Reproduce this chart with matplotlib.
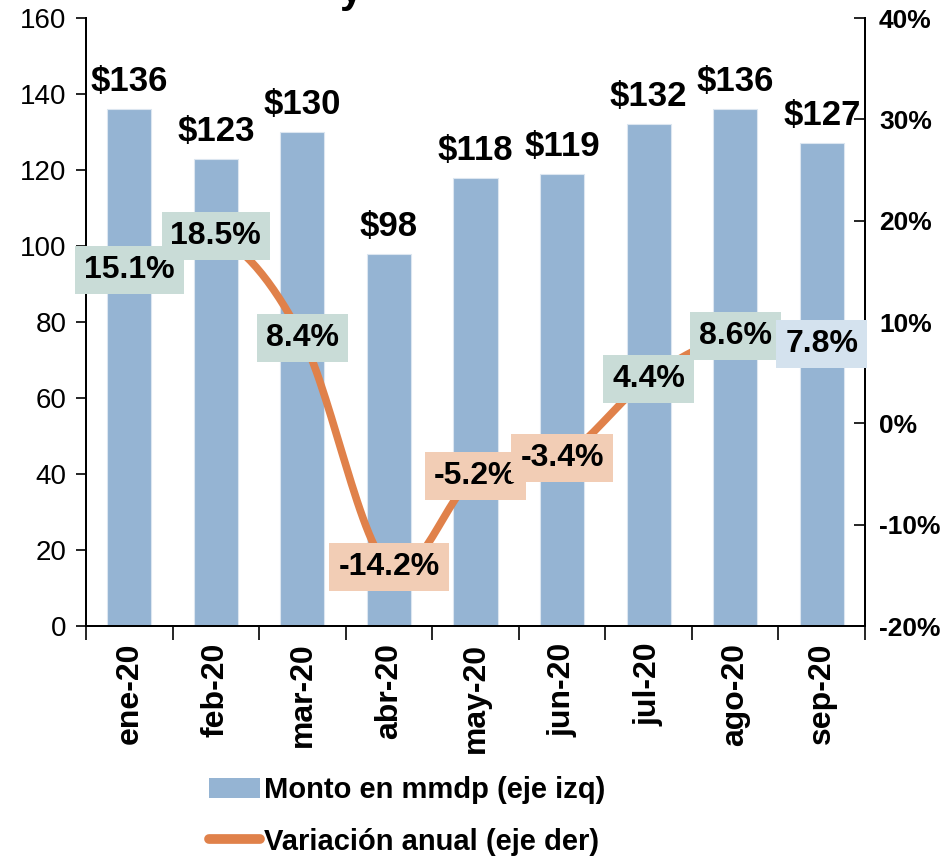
import numpy as np
import matplotlib
matplotlib.use("Agg")
import matplotlib.pyplot as plt
from matplotlib.lines import Line2D
from matplotlib.patches import Patch

plt.rcParams['font.family'] = ['Liberation Sans', 'DejaVu Sans']

months = ["ene-20", "feb-20", "mar-20", "abr-20", "may-20", "jun-20", "jul-20", "ago-20", "sep-20"]
monto = [136, 123, 130, 98, 118, 119, 132, 136, 127]
monto_labels = ["$136", "$123", "$130", "$98", "$118", "$119", "$132", "$136", "$127"]
variacion = [15.1, 18.5, 8.4, -14.2, -5.2, -3.4, 4.4, 8.6, 7.8]
var_labels = ["15.1%", "18.5%", "8.4%", "-14.2%", "-5.2%", "-3.4%", "4.4%", "8.6%", "7.8%"]
left_ticks = [0, 20, 40, 60, 80, 100, 120, 140, 160]
right_ticks = [-20, -10, 0, 10, 20, 30, 40]
right_tick_labels = ["-20%", "-10%", "0%", "10%", "20%", "30%", "40%"]
legend_labels = ["Monto en mmdp (eje izq)", "Variación anual (eje der)"]

BAR = "#95B4D3"
LINE = "#E0814A"
GREEN = "#C9DCD7"
PEACH = "#F2CDB5"
LBLUE = "#D4E2EE"

fig = plt.figure(figsize=(9.47, 8.58), dpi=100)
ax = fig.add_axes([86/947, 1-626/858, (865-86)/947, (626-18)/858])
x = np.arange(len(months))

ax.bar(x, monto, width=0.51, color=BAR, edgecolor="#DCE6F0", linewidth=0.8, zorder=2)
ax.set_xlim(-0.5, len(months)-0.5)
ax.set_ylim(0, 160)
ax.set_yticks(left_ticks)
ax.set_yticklabels([str(t) for t in left_ticks], fontsize=20)
ax.tick_params(axis='y', direction='out', length=7, width=1.2, pad=7)
ax.set_xticks(np.arange(len(months)+1)-0.5)
ax.set_xticklabels([])
ax.set_xticks(x, minor=True)
ax.set_xticklabels(months, minor=True, rotation=90, fontsize=23, fontweight='bold')
ax.tick_params(axis='x', which='major', direction='out', length=10, width=1.2)
ax.tick_params(axis='x', which='minor', length=0, pad=12)
for s in ['left', 'bottom', 'right']:
    ax.spines[s].set_linewidth(1.4)
ax.spines['top'].set_visible(False)

for xi, v, lab in zip(x, monto, monto_labels):
    ax.annotate(lab, (xi, v), xytext=(0, 13), textcoords='offset points',
                ha='center', va='baseline', fontsize=25, fontweight='bold', zorder=5)

ax2 = ax.twinx()
ax2.set_ylim(-20, 40)
ax2.set_yticks(right_ticks)
ax2.set_yticklabels(right_tick_labels, fontsize=19, fontweight='bold')
ax2.tick_params(axis='y', direction='in', length=8, width=1.2, pad=10)
ax2.spines['top'].set_visible(False)
for s in ['left', 'bottom', 'right']:
    ax2.spines[s].set_linewidth(1.4)

# smoothed line (Catmull-Rom through data points)
px = np.array(x, dtype=float)
py = np.array(variacion, dtype=float)
P = np.column_stack([px, py])
P_ext = np.vstack([2*P[0]-P[1], P, 2*P[-1]-P[-2]])
curve = []
for i in range(1, len(P_ext)-2):
    p0, p1, p2, p3 = P_ext[i-1], P_ext[i], P_ext[i+1], P_ext[i+2]
    for t in np.linspace(0, 1, 30, endpoint=False):
        t2, t3 = t*t, t*t*t
        pt = 0.5*((2*p1) + (-p0+p2)*t + (2*p0-5*p1+4*p2-p3)*t2 + (-p0+3*p1-3*p2+p3)*t3)
        curve.append(pt)
curve.append(P[-1])
curve = np.array(curve)
ax2.plot(curve[:, 0], curve[:, 1], color=LINE, linewidth=5.5, solid_capstyle='round', zorder=3)

for i, (xi, v, lab) in enumerate(zip(x, variacion, var_labels)):
    if i == len(x) - 1:
        fc = LBLUE
    elif v < 0:
        fc = PEACH
    else:
        fc = GREEN
    ax2.text(xi, v, lab, ha='center', va='center', fontsize=23, fontweight='bold', zorder=6,
             bbox=dict(boxstyle='square,pad=0.28', fc=fc, ec='none'))

handles = [Patch(facecolor=BAR, edgecolor='none'),
           Line2D([0], [0], color=LINE, linewidth=7, solid_capstyle='round')]
fig.legend(handles, legend_labels, loc='center', bbox_to_anchor=(407/947, 1-816/858),
           frameon=False, prop={'weight': 'bold', 'size': 21},
           handlelength=1.75, handletextpad=0.15, labelspacing=0.8)

fig.text(351/947, 1-2/858, "y", ha='center', va='baseline', fontsize=30, fontweight='bold')

fig.savefig("out.png", dpi=100)
